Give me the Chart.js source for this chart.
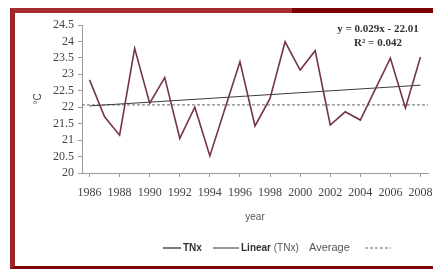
<!DOCTYPE html>
<html lang="en">
<head>
<meta charset="UTF-8">
<title>TNx</title>
<script src="https://cdn.jsdelivr.net/npm/chart.js"></script>
<style>
    body {
        margin: 0;
        padding: 0;
        background: #ffffff;
        width: 433px;
        height: 269px;
        overflow: hidden;
    }
    .frame {
        position: absolute;
        left: 10px;
        top: 8px;
        width: 423px;
        height: 261px;
        box-sizing: border-box;
        border-left: 5px solid #9b2628;
        border-top: 5px solid #a52d2f;
        border-bottom: 3px solid #7d0505;
        background: #ffffff;
    }
    .frame-top {
        position: absolute;
        left: 292px;
        top: 8px;
        width: 141px;
        height: 5px;
        background: #7a0303;
    }
    #chart {
        position: absolute;
        left: 0;
        top: 0;
    }
</style>
</head>
<body>
<div class="frame"></div>
<div class="frame-top"></div>
<canvas id="chart" width="433" height="269"></canvas>

<script>
// values
var years = [1986, 1987, 1988, 1989, 1990, 1991, 1992, 1993, 1994, 1995, 1996, 1997,
             1998, 1999, 2000, 2001, 2002, 2003, 2004, 2005, 2006, 2007, 2008];
var tnx = [22.83, 21.71, 21.15, 23.79, 22.12, 22.90, 21.05, 22.00, 20.52, 21.95, 23.38, 21.43,
           22.27, 23.99, 23.13, 23.72, 21.46, 21.86, 21.61, 22.55, 23.49, 21.98, 23.53];
var trendYears = [1986, 2008];
var trendValues = [22.04, 22.67];
var avgYears = [1985.5, 2008.5];
var avgValues = [22.07, 22.07];
var xTickLabels = [1986, 1988, 1990, 1992, 1994, 1996, 1998, 2000, 2002, 2004, 2006, 2008];
var yTickLabels = [20, 20.5, 21, 21.5, 22, 22.5, 23, 23.5, 24, 24.5];
var equation = ['y = 0.029x - 22.01', 'R\u00b2 = 0.042'];

function pairs(xs, ys) {
    var out = [];
    for (var i = 0; i < xs.length; i++) {
        out.push({x: xs[i], y: ys[i]});
    }
    return out;
}

var serif = '"Liberation Serif", "DejaVu Serif", serif';
var sans = '"Liberation Sans", Arial, sans-serif';

// equation box + legend the way the original has them
var extras = {
    id: 'extras',
    afterDraw: function(chart) {
        var ctx = chart.ctx;
        ctx.save();
        ctx.fillStyle = '#333333';
        ctx.font = 'bold 11px ' + serif;
        ctx.textAlign = 'center';
        ctx.textBaseline = 'middle';
        ctx.fillText(equation[0], 378, 29);
        ctx.fillText(equation[1], 378, 43);

        var ly = 248;
        ctx.textAlign = 'left';
        ctx.lineWidth = 1.5;
        ctx.strokeStyle = '#5a4a50';
        ctx.beginPath();
        ctx.moveTo(163, ly);
        ctx.lineTo(181, ly);
        ctx.stroke();
        ctx.font = 'bold 10px ' + sans;
        ctx.fillStyle = '#333333';
        ctx.fillText(chart.data.datasets[0].label, 183, ly);

        ctx.lineWidth = 1;
        ctx.strokeStyle = '#333333';
        ctx.beginPath();
        ctx.moveTo(213, ly);
        ctx.lineTo(239, ly);
        ctx.stroke();
        ctx.font = 'bold 10px ' + sans;
        ctx.fillText('Linear', 241, ly);
        var w = ctx.measureText('Linear ').width;
        ctx.font = '10px ' + sans;
        ctx.fillStyle = '#555555';
        ctx.fillText('(TNx)', 241 + w, ly);

        ctx.font = '11px ' + sans;
        ctx.fillStyle = '#555555';
        ctx.fillText(chart.data.datasets[2].label, 309, ly);
        ctx.setLineDash([3, 2]);
        ctx.strokeStyle = '#666666';
        ctx.beginPath();
        ctx.moveTo(365, ly);
        ctx.lineTo(391, ly);
        ctx.stroke();
        ctx.restore();
    }
};

new Chart(document.getElementById('chart').getContext('2d'), {
    type: 'line',
    data: {
        datasets: [{
            label: 'TNx',
            data: pairs(years, tnx),
            borderColor: '#743449',
            borderWidth: 1.6,
            pointRadius: 0,
            tension: 0,
            fill: false
        }, {
            label: 'Linear (TNx)',
            data: pairs(trendYears, trendValues),
            borderColor: '#3a3a3a',
            borderWidth: 1,
            pointRadius: 0,
            fill: false
        }, {
            label: 'Average',
            data: pairs(avgYears, avgValues),
            borderColor: '#666666',
            borderWidth: 1,
            borderDash: [3, 2],
            pointRadius: 0,
            fill: false
        }]
    },
    options: {
        responsive: false,
        animation: false,
        devicePixelRatio: 1,
        layout: {
            padding: {left: 28, top: 25, right: 5, bottom: 42}
        },
        plugins: {
            legend: {display: false},
            tooltip: {enabled: false}
        },
        scales: {
            x: {
                type: 'linear',
                min: 1985.5,
                max: 2008.5,
                afterBuildTicks: function(scale) {
                    scale.ticks = xTickLabels.map(function(v) { return {value: v}; });
                },
                afterFit: function(scale) {
                    scale.height = 54;
                    scale.paddingLeft = 0;
                    scale.paddingRight = 0;
                },
                ticks: {
                    autoSkip: false,
                    maxRotation: 0,
                    padding: 9,
                    color: '#444444',
                    font: {family: serif, size: 12},
                    callback: function(v) { return String(v); }
                },
                grid: {
                    drawOnChartArea: false,
                    drawTicks: true,
                    tickLength: 4,
                    color: '#9a9a9a'
                },
                border: {display: true, color: '#9a9a9a'},
                title: {
                    display: true,
                    text: 'year',
                    color: '#555555',
                    font: {family: sans, size: 10},
                    padding: {top: 4, bottom: 4}
                }
            },
            y: {
                min: 20,
                max: 24.5,
                afterBuildTicks: function(scale) {
                    scale.ticks = yTickLabels.map(function(v) { return {value: v}; });
                },
                afterFit: function(scale) {
                    scale.width = 54;
                    scale.paddingTop = 0;
                    scale.paddingBottom = 0;
                },
                ticks: {
                    autoSkip: false,
                    padding: 4,
                    color: '#444444',
                    font: {family: serif, size: 12},
                    callback: function(v) { return String(v); }
                },
                grid: {
                    drawOnChartArea: false,
                    drawTicks: true,
                    tickLength: 4,
                    color: '#9a9a9a'
                },
                border: {display: true, color: '#9a9a9a'},
                title: {
                    display: true,
                    text: '\u00b0C',
                    color: '#444444',
                    font: {family: sans, size: 10},
                    padding: 4
                }
            }
        }
    },
    plugins: [extras]
});
</script>
</body>
</html>
